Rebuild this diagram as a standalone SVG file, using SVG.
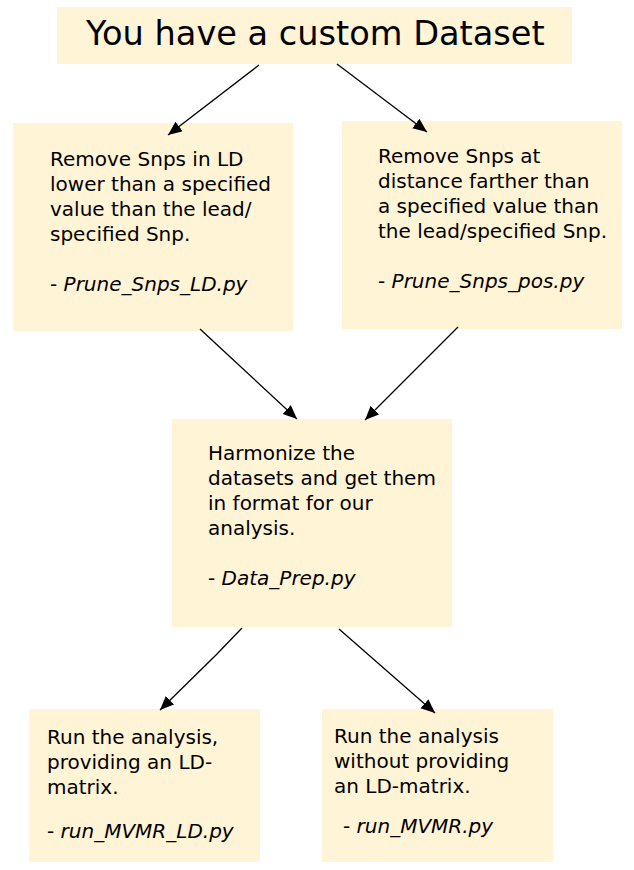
<svg xmlns="http://www.w3.org/2000/svg" width="634" height="870" viewBox="0 0 634 870">
<style>
.box{fill:#fff4d6;stroke:none}
.t{font-family:"DejaVu Sans",sans-serif;font-size:20px;fill:#000}
.i{font-style:italic}
.title{font-family:"DejaVu Sans",sans-serif;font-size:33.6px;fill:#000}
.c{fill:none;stroke:#000;stroke-width:1.3}
</style>
<defs>
<marker id="ah" markerUnits="userSpaceOnUse" markerWidth="16" markerHeight="14" refX="14" refY="6" orient="auto">
<path d="M0,0 L14,6 L0,12 z" fill="#000"/>
</marker>
</defs>
<rect width="634" height="870" fill="#fff"/>
<g id="n-title">
<rect class="box" x="57" y="7" width="515" height="57"/>
<text class="title" x="86" y="45">You have a custom Dataset</text>
</g>
<g id="n-ld">
<rect class="box" x="13" y="123" width="280" height="208"/>
<text class="t" x="50" y="166">Remove Snps in LD</text>
<text class="t" x="50" y="191">lower than a specified</text>
<text class="t" x="50" y="216">value than the lead/</text>
<text class="t" x="50" y="241">specified Snp.</text>
<text class="t" x="50" y="291">- <tspan class="i">Prune_Snps_LD.py</tspan></text>
</g>
<g id="n-pos">
<rect class="box" x="342" y="121" width="280" height="208"/>
<text class="t" x="378" y="163">Remove Snps at</text>
<text class="t" x="378" y="188">distance farther than</text>
<text class="t" x="378" y="213">a specified value than</text>
<text class="t" x="378" y="238">the lead/specified Snp.</text>
<text class="t" x="378" y="288">- <tspan class="i">Prune_Snps_pos.py</tspan></text>
</g>
<g id="n-prep">
<rect class="box" x="172" y="419" width="280" height="208"/>
<text class="t" x="208" y="460">Harmonize the</text>
<text class="t" x="208" y="485">datasets and get them</text>
<text class="t" x="208" y="510">in format for our</text>
<text class="t" x="208" y="535">analysis.</text>
<text class="t" x="208" y="585">- <tspan class="i">Data_Prep.py</tspan></text>
</g>
<g id="n-mvmr-ld">
<rect class="box" x="29" y="709" width="231" height="153"/>
<text class="t" x="47" y="744">Run the analysis,</text>
<text class="t" x="47" y="769">providing an LD-</text>
<text class="t" x="47" y="794">matrix.</text>
<text class="t" x="47" y="838">- <tspan class="i">run_MVMR_LD.py</tspan></text>
</g>
<g id="n-mvmr">
<rect class="box" x="322" y="709" width="231" height="153"/>
<text class="t" x="334" y="743">Run the analysis</text>
<text class="t" x="334" y="768">without providing</text>
<text class="t" x="334" y="793">an LD-matrix.</text>
<text class="t" x="343" y="833">- <tspan class="i">run_MVMR.py</tspan></text>
</g>
<g id="connectors">
<path class="c" d="M259,65 L168,135" marker-end="url(#ah)"/>
<path class="c" d="M337,64 L427,132" marker-end="url(#ah)"/>
<path class="c" d="M200,329 L297,419" marker-end="url(#ah)"/>
<path class="c" d="M458,327 L365,420" marker-end="url(#ah)"/>
<path class="c" d="M242,628 L216,655 L160,710" marker-end="url(#ah)"/>
<path class="c" d="M339,629 L435,713" marker-end="url(#ah)"/>
</g>
</svg>
